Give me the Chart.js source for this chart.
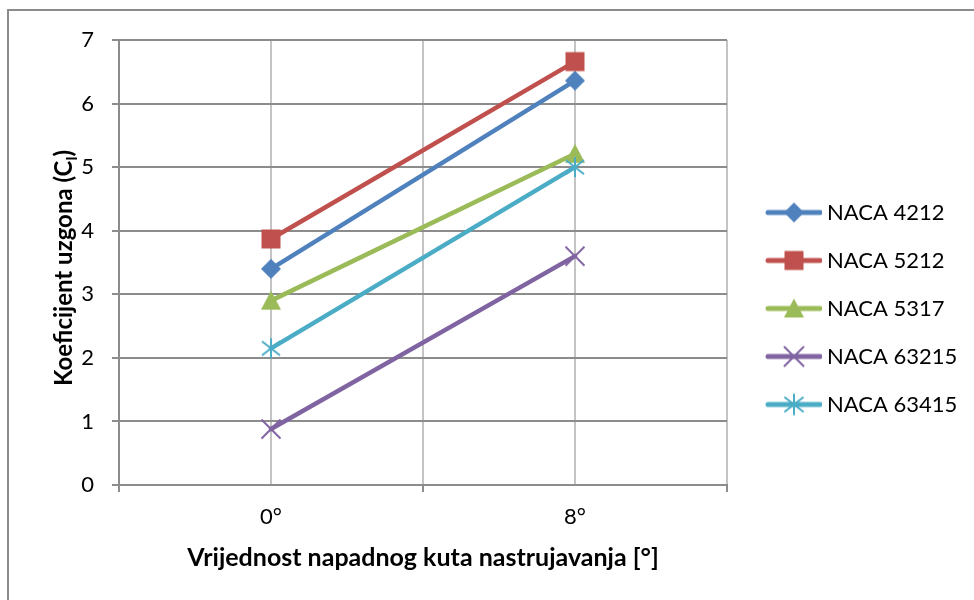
<!DOCTYPE html>
<html lang="hr">
<head>
  <meta charset="utf-8">
  <title>Koeficijent uzgona</title>
  <style>
    body { margin: 0; background: #fff; }
    #wrap { position: relative; width: 974px; height: 600px; overflow: hidden; }
    #frame { position: absolute; left: 7px; top: 9px; width: 1200px; height: 1200px;
             border-top: 2px solid #8c8c8c; border-left: 2px solid #8c8c8c; }
    #myChart { position: absolute; left: 0; top: 0; }
  </style>
</head>

<body>
  <div id="wrap">
    <div id="frame"></div>
    <canvas id="myChart" width="974" height="600"></canvas>
  </div>

  <script src="https://cdn.jsdelivr.net/npm/chart.js@4"></script>
  <script>
    // data
    var categories = ['0°', '8°'];
    var seriesNames = ['NACA 4212', 'NACA 5212', 'NACA 5317', 'NACA 63215', 'NACA 63415'];
    var naca4212 = [3.40, 6.36];
    var naca5212 = [3.87, 6.66];
    var naca5317 = [2.90, 5.21];
    var naca63215 = [0.88, 3.60];
    var naca63415 = [2.15, 5.00];
    var yTicks = [0, 1, 2, 3, 4, 5, 6, 7];

    var seriesValues = [naca4212, naca5212, naca5317, naca63215, naca63415];
    var colors = ['#4f81bd', '#c0504d', '#9bbb59', '#8064a2', '#4bacc6'];
    var markers = ['diamond', 'square', 'triangle', 'x', 'star'];

    var FONT = 'Lato';
    var gridDark = '#8c8c8c';
    var gridLight = '#c4c4c4';

    // Excel-like markers
    function drawMarker(g, kind, x, y, color) {
      g.fillStyle = color;
      g.strokeStyle = color;
      g.lineWidth = 2;
      g.beginPath();
      if (kind === 'diamond') {
        g.moveTo(x, y - 10); g.lineTo(x + 10, y); g.lineTo(x, y + 10); g.lineTo(x - 10, y);
        g.closePath(); g.fill();
      } else if (kind === 'square') {
        g.fillRect(x - 9.5, y - 9.5, 19, 19);
      } else if (kind === 'triangle') {
        g.moveTo(x, y - 10); g.lineTo(x + 10, y + 9); g.lineTo(x - 10, y + 9);
        g.closePath(); g.fill();
      } else if (kind === 'x') {
        g.moveTo(x - 9.5, y - 9.5); g.lineTo(x + 9.5, y + 9.5);
        g.moveTo(x + 9.5, y - 9.5); g.lineTo(x - 9.5, y + 9.5);
        g.stroke();
      } else if (kind === 'star') {
        g.moveTo(x - 9, y - 7); g.lineTo(x + 9, y + 7);
        g.moveTo(x + 9, y - 7); g.lineTo(x - 9, y + 7);
        g.moveTo(x, y - 10); g.lineTo(x, y + 10);
        g.stroke();
      }
    }

    function markerImage(i) {
      var c = document.createElement('canvas');
      c.width = 26; c.height = 26;
      drawMarker(c.getContext('2d'), markers[i], 13, 13, colors[i]);
      return c;
    }

    // legend swatch: line with marker, shifted so the text sits close to the line
    function legendImage(i) {
      var c = document.createElement('canvas');
      c.width = 75; c.height = 26;
      var g = c.getContext('2d');
      g.strokeStyle = colors[i];
      g.lineWidth = 5;
      g.lineCap = 'round';
      g.beginPath(); g.moveTo(21, 13); g.lineTo(73, 13); g.stroke();
      drawMarker(g, markers[i], 47, 13, colors[i]);
      return c;
    }

    var legendImages = seriesNames.map(function(n, i) { return legendImage(i); });

    var datasets = seriesNames.map(function(name, i) {
      return {
        label: name,
        data: categories.map(function(c, k) { return {x: k, y: seriesValues[i][k]}; }),
        borderColor: colors[i],
        backgroundColor: colors[i],
        borderWidth: 4.5,
        borderCapStyle: 'round',
        tension: 0,
        pointStyle: markerImage(i),
        pointRadius: 6,
        order: seriesNames.length - i
      };
    });

    // width of the legend so that the plot ends where it does in the picture
    var LEG_FONT = 22, LEG_PAD = 26, LEG_BOX = 63;
    var mctx = document.createElement('canvas').getContext('2d');
    mctx.font = 'normal ' + LEG_FONT + 'px ' + FONT;
    var maxText = Math.max.apply(null, seriesNames.map(function(n) { return mctx.measureText(n).width; }));
    var legendWidth = LEG_PAD + LEG_BOX + LEG_FONT / 2 + maxText + 10;
    var plotRight = 727;

    var yTitlePlugin = {
      id: 'yTitle',
      afterDraw: function(chart) {
        var g = chart.ctx;
        var main = 'Koeficijent uzgona (C', sub = 'l', end = ')';
        g.save();
        g.translate(63, 268);
        g.rotate(-Math.PI / 2);
        g.fillStyle = '#000';
        g.textBaseline = 'alphabetic';
        g.font = 'bold 24px ' + FONT;
        var w1 = g.measureText(main).width, w3 = g.measureText(end).width;
        g.font = 'bold 16px ' + FONT;
        var w2 = g.measureText(sub).width;
        var x = -(w1 + w2 + w3) / 2;
        g.font = 'bold 24px ' + FONT;
        g.fillText(main, x, 9);
        g.font = 'bold 16px ' + FONT;
        g.fillText(sub, x + w1, 14);
        g.font = 'bold 24px ' + FONT;
        g.fillText(end, x + w1 + w2, 9);
        g.restore();
      }
    };

    var ctx = document.getElementById('myChart').getContext('2d');
    var chart = new Chart(ctx, {
      type: 'line',
      data: { datasets: datasets },
      plugins: [yTitlePlugin],
      options: {
        responsive: false,
        animation: false,
        layout: { padding: { left: 0, top: 40, right: 974 - plotRight - legendWidth, bottom: 23 } },
        plugins: {
          tooltip: { enabled: false },
          legend: {
            position: 'right',
            align: 'center',
            labels: {
              usePointStyle: true,
              pointStyleWidth: LEG_BOX,
              padding: LEG_PAD,
              color: '#000',
              font: { family: FONT, size: LEG_FONT },
              sort: function(a, b) { return a.datasetIndex - b.datasetIndex; },
              generateLabels: function(chart) {
                var items = Chart.defaults.plugins.legend.labels.generateLabels(chart);
                items.forEach(function(it) { it.pointStyle = legendImages[it.datasetIndex]; });
                return items;
              }
            }
          }
        },
        scales: {
          x: {
            type: 'linear',
            min: -0.5,
            max: categories.length - 0.5,
            afterFit: function(s) { s.height = 92; },
            ticks: {
              stepSize: 0.5,
              autoSkip: false,
              maxRotation: 0,
              padding: 12,
              color: '#000',
              font: { family: FONT, size: 22 },
              callback: function(v) { return Number.isInteger(v) ? categories[v] : ''; }
            },
            grid: {
              lineWidth: 2,
              color: gridLight,
              tickLength: 7,
              tickColor: function(c) { return Number.isInteger(c.tick.value) ? 'rgba(0,0,0,0)' : gridDark; }
            },
            border: { color: gridDark, width: 2 },
            title: {
              display: true,
              text: 'Vrijednost napadnog kuta nastrujavanja [°]',
              color: '#000',
              font: { family: FONT, size: 25, weight: 'bold' },
              padding: { top: 0, bottom: 4 }
            }
          },
          y: {
            min: yTicks[0],
            max: yTicks[yTicks.length - 1],
            afterFit: function(s) { s.width = 119; },
            afterBuildTicks: function(s) { s.ticks = yTicks.map(function(v) { return {value: v}; }); },
            ticks: {
              padding: 18,
              color: '#000',
              font: { family: FONT, size: 22 }
            },
            grid: { lineWidth: 2, color: gridDark, tickLength: 7, tickColor: gridDark },
            border: { color: gridDark, width: 2 }
          }
        }
      }
    });
  </script>
</body>
</html>
